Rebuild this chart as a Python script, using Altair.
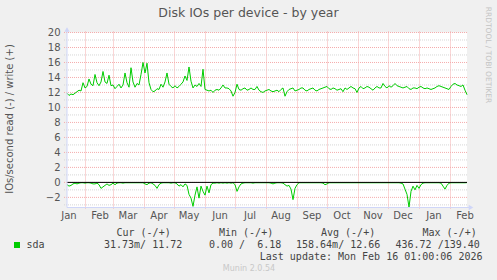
import altair as alt
import pandas as pd

# ---------------- texts ----------------
title_text = "Disk IOs per device - by year"
y_title = "IOs/second read (-) / write (+)"
side_text = "RRDTOOL / TOBI OETIKER"
series_name = "sda"
legend_headers = ["Cur (-/+)", "Min (-/+)", "Avg (-/+)", "Max (-/+)"]
legend_values = ["31.73m/ 11.72", "0.00 /  6.18", "158.64m/ 12.66", "436.72 /139.40"]
last_update = "Last update: Mon Feb 16 01:00:06 2026"
footer = "Munin 2.0.54"

# ---------------- axis values ----------------
y_major = [-2, 0, 2, 4, 6, 8, 10, 12, 14, 16, 18, 20]
y_minor = [-3, -1, 1, 3, 5, 7, 9, 11, 13, 15, 17, 19]
month_label_dates = ["2025-01-15", "2025-02-15", "2025-03-15", "2025-04-15", "2025-05-15",
                     "2025-06-15", "2025-07-15", "2025-08-15", "2025-09-15", "2025-10-15",
                     "2025-11-15", "2025-12-15", "2026-01-15", "2026-02-15"]
month_start_dates = ["2025-02-01", "2025-03-01", "2025-04-01", "2025-05-01", "2025-06-01",
                     "2025-07-01", "2025-08-01", "2025-09-01", "2025-10-01", "2025-11-01",
                     "2025-12-01", "2026-01-01", "2026-02-01"]

# ---------------- series (one sample every 2 days from 2025-01-13 12:00 UTC) ----------------
write_vals = [
    11.9, 11.6, 11.8, 11.7, 11.9, 12.1, 12.3, 12.2, 13.3, 12.6,
    12.8, 13.8, 13.1, 12.9, 14.4, 13.3, 12.9, 13.4, 14.8, 13.4,
    13.2, 14.3, 12.9, 13.0, 12.5, 12.8, 13.1, 12.6, 13.0, 14.6,
    13.3, 12.7, 15.3, 13.4, 12.7, 13.2, 13.0, 14.4, 16.0, 14.6,
    15.9, 13.3, 12.4, 12.1, 12.2, 12.5, 12.4, 13.1, 12.7, 13.4,
    14.6, 13.1, 12.8, 12.6, 12.9, 12.6, 12.8, 13.1, 13.4, 14.2,
    13.6, 15.4, 13.5, 12.6, 13.0, 12.8, 13.2,
    12.8, 15.1, 12.4, 12.3, 12.2, 12.3, 12.0, 12.3, 12.4, 12.3,
    12.6, 13.0, 12.6, 12.6, 12.5, 12.2, 11.5, 12.0, 13.1, 12.4,
    12.3, 12.5, 12.6, 12.3, 12.4, 12.6, 12.4, 12.4, 12.8, 12.3,
    12.1, 12.0, 12.2, 12.3, 12.4, 12.2, 12.1, 12.2, 12.3, 12.1,
    12.4, 12.6, 11.5, 12.1, 12.4, 12.5, 12.6, 12.2, 12.3, 12.4,
    12.6, 12.6, 12.3, 12.2, 12.4, 12.5, 12.6, 12.3, 12.2, 12.4,
    12.5, 12.6, 12.7, 12.8, 12.5, 12.4, 12.6, 12.5, 12.3, 12.4,
    12.5, 12.1, 12.6, 12.4, 12.6, 12.8, 12.6, 12.5, 12.0, 12.6,
    12.8, 12.5, 12.6, 12.8, 12.7, 12.5, 12.3, 12.6, 12.8, 12.6,
    12.6, 13.2, 12.8, 12.6, 12.9, 12.7, 12.9, 13.2, 12.9, 12.8,
    12.7, 12.6, 12.7, 12.8, 12.5, 12.4, 12.6, 12.6, 12.5, 12.7,
    12.8, 12.6, 12.5, 12.6, 12.5, 12.4, 12.5, 12.6, 12.8, 12.9,
    12.8, 12.7, 12.6, 12.5, 12.4, 12.8, 13.1, 13.2, 13.0, 12.9,
    12.8, 13.0, 12.3, 11.7,
]
read_vals = [
    0.3, 0.5, 0.4, 0.2, 0.1, 0.2, 0.1, 0.05, 0.05, 0.1,
    0.05, 0.05, 0.1, 0.2, 0.2, 0.1, 0.3, 0.8, 0.6, 0.4,
    0.2, 0.4, 0.3, 0.1, 0.3, 0.1, 0.05, 0.05, 0.1, 0.05,
    0.05, 0.05, 0.05, 0.05, 0.05, 0.05, 0.05, 0.05, 0.05, 0.2,
    0.3, 0.1, 0.05, 0.2, 0.4, 0.8, 0.3, 0.1, 0.05, 0.05,
    0.05, 0.05, 0.1, 0.05, 0.05, 0.2, 0.5, 0.3, 0.6, 0.2,
    0.4, 1.6, 2.1, 3.2, 1.7, 0.6, 2.1, 0.5, 1.2, 1.7,
    0.5, 1.4, 0.3, 0.1, 0.1, 0.05, 0.1, 0.05, 0.1, 0.05,
    0.1, 0.05, 0.1, 0.05, 0.3, 1.2, 0.6, 0.2, 0.1, 0.05,
    0.05, 0.05, 0.05, 0.1, 0.05, 0.05, 0.05, 0.05, 0.05, 0.05,
    0.05, 0.05, 0.1, 0.2, 0.1, 0.05, 0.05, 0.05, 0.1, 0.3,
    0.5, 0.4, 0.9, 2.3, 0.8, 0.3, 0.05, 0.05, 0.05, 0.05,
    0.05, 0.05, 0.05, 0.05, 0.05, 0.05, 0.05, 0.05, 0.1, 0.3,
    0.2, 0.05, 0.05, 0.05, 0.05, 0.05, 0.05, 0.05, 0.05, 0.05,
    0.05, 0.05, 0.05, 0.05, 0.05, 0.05, 0.05, 0.05, 0.05, 0.05,
    0.05, 0.05, 0.05, 0.05, 0.05, 0.05, 0.05, 0.05, 0.05, 0.05,
    0.05, 0.05, 0.05, 0.05, 0.05, 0.05, 0.05, 0.1, 0.2, 0.9,
    1.6, 3.3, 1.2, 0.5, 1.0, 0.4, 0.8, 0.3, 0.1, 0.05,
    0.05, 0.05, 0.05, 0.05, 0.05, 0.05, 0.05, 0.1, 0.5, 0.9,
    0.4, 0.1, 0.05, 0.05, 0.05, 0.05, 0.05, 0.05, 0.05, 0.05,
    0.03,
]

dates = pd.date_range("2025-01-13 12:00", periods=len(write_vals), freq="2D").strftime("%Y-%m-%dT%H:%M:%SZ")
df = pd.DataFrame({"date": dates, "write": write_vals, "read": read_vals})

# ---------------- styling ----------------
GREEN = "#00CC00"
AXIS_COL = "#CFD6F8"
MAJOR = "#F5ACAC"
MINOR = "#D6D6D6"
FONT_COL = "#555555"
W, H = 400, 175
OX, OY = 67, 32.5   # plot origin in page pixels

xscale = alt.Scale(type="utc", domain=[
    alt.DateTime(year=2025, month=1, date=13, hours=12, utc=True),
    alt.DateTime(year=2026, month=2, date=17, hours=12, utc=True)])
yscale = alt.Scale(domain=[-3.35, 20], nice=False, zero=False)

def dt(s):
    y, m, d = (int(p) for p in s.split("-"))
    return alt.DateTime(year=y, month=m, date=d, utc=True)

x_axis = alt.Axis(values=[dt(s) for s in month_label_dates],
                  labelExpr="utcFormat(datum.value, '%b')",
                  ticks=False, domain=False, grid=False, labelPadding=3, title=None,
                  labelFont="DejaVu Sans", labelFontSize=10, labelColor=FONT_COL,
                  labelFlush=False, labelOverlap=False)
y_axis = alt.Axis(values=y_major, ticks=False, domain=False, grid=False, title=None,
                  labelPadding=7, labelFont="DejaVu Sans", labelFontSize=10,
                  labelColor=FONT_COL)

one = pd.DataFrame({"a": [0]})

minor_grid = alt.Chart(pd.DataFrame({"v": y_minor})).mark_rule(
    color=MINOR, strokeDash=[1, 1], strokeWidth=1).encode(
    y=alt.Y("v:Q", scale=yscale, axis=y_axis), x=alt.value(-3), x2=alt.value(W + 1))
major_grid = alt.Chart(pd.DataFrame({"v": y_major})).mark_rule(
    color=MAJOR, strokeDash=[1, 1], strokeWidth=1).encode(
    y=alt.Y("v:Q", scale=yscale, axis=y_axis), x=alt.value(-3), x2=alt.value(W + 1))
month_grid = alt.Chart(pd.DataFrame({"d": [s + "T00:00:00Z" for s in month_start_dates]})).mark_rule(
    color=MAJOR, strokeDash=[1, 1], strokeWidth=1).encode(
    x=alt.X("d:T", scale=xscale, axis=x_axis), y=alt.value(-1), y2=alt.value(H + 2))

write_line = alt.Chart(df).mark_line(color=GREEN, strokeWidth=1).encode(
    x=alt.X("date:T", scale=xscale, axis=x_axis),
    y=alt.Y("write:Q", scale=yscale, axis=y_axis))
read_line = alt.Chart(df).transform_calculate(neg="-datum.read").mark_line(
    color=GREEN, strokeWidth=1).encode(
    x=alt.X("date:T", scale=xscale, axis=x_axis), y=alt.Y("neg:Q", scale=yscale, axis=y_axis))

zero_line = alt.Chart(pd.DataFrame({"v": [0]})).mark_rule(color="#000000", strokeWidth=1).encode(
    y=alt.Y("v:Q", scale=yscale, axis=y_axis), x=alt.value(0), x2=alt.value(W))

y_axis_line = alt.Chart(one).mark_rule(color=AXIS_COL, strokeWidth=1).encode(
    x=alt.value(0), y=alt.value(-4), y2=alt.value(H))
x_axis_line = alt.Chart(one).mark_rule(color=AXIS_COL, strokeWidth=1).encode(
    y=alt.value(H), x=alt.value(0), x2=alt.value(W + 4))
arrow_up = alt.Chart(one).mark_point(shape="triangle-up", filled=True, size=28,
                                     color=AXIS_COL, opacity=1).encode(
    x=alt.value(0), y=alt.value(-3))
arrow_right = alt.Chart(one).mark_point(shape="triangle-right", filled=True, size=28,
                                        color=AXIS_COL, opacity=1).encode(
    x=alt.value(W + 4), y=alt.value(H))

def txt(text, x, y, size=10, font="DejaVu Sans", color=FONT_COL, align="left", angle=0):
    kw = dict(text=text.replace(" ", "\u00a0"), font=font, fontSize=size, color=color,
              align=align, baseline="middle")
    if angle:
        kw["angle"] = angle
    return alt.Chart(one).mark_text(**kw).encode(x=alt.value(x), y=alt.value(y))

texts = [
    txt(title_text, 248.5 - OX, 13 - OY, size=12.5, align="center"),
    txt(y_title, 10 - OX, 119 - OY, size=10, align="center", angle=270),
    txt(side_text, 488 - OX, 55 - OY, size=7.5, color="#C4C4C4", align="center", angle=90),
    txt(series_name, 26.5 - OX, 245 - OY, font="DejaVu Sans Mono", color="#444444"),
    txt(last_update, 482.5 - OX, 257 - OY, font="DejaVu Sans Mono", color="#444444", align="right"),
    txt(footer, 249 - OX, 269 - OY, size=8, color="#C8C8C8", align="center"),
]
header_x = [116.5, 219, 321, 422.5]
value_x = [104, 209, 296, 395.5]
for h, hx in zip(legend_headers, header_x):
    texts.append(txt(h, hx - OX, 233 - OY, font="DejaVu Sans Mono", color="#444444"))
for v, vx in zip(legend_values, value_x):
    texts.append(txt(v, vx - OX, 245 - OY, font="DejaVu Sans Mono", color="#444444"))

legend_box = alt.Chart(one).mark_rect(color=GREEN).encode(
    x=alt.value(14 - OX), x2=alt.value(20 - OX), y=alt.value(242 - OY), y2=alt.value(248 - OY))

chart = alt.layer(
    minor_grid, major_grid, month_grid, write_line, read_line, zero_line,
    y_axis_line, x_axis_line, arrow_up, arrow_right, legend_box, *texts
).properties(
    width=W, height=H,
    autosize=alt.AutoSizeParams(type="none"),
    padding={"left": OX, "top": OY, "right": 497 - OX - W, "bottom": 280 - OY - H},
    background="#F0F0F0",
).configure_view(fill="white", stroke=None)

chart.save("out.html", embed_options={"renderer": "svg", "actions": False})
